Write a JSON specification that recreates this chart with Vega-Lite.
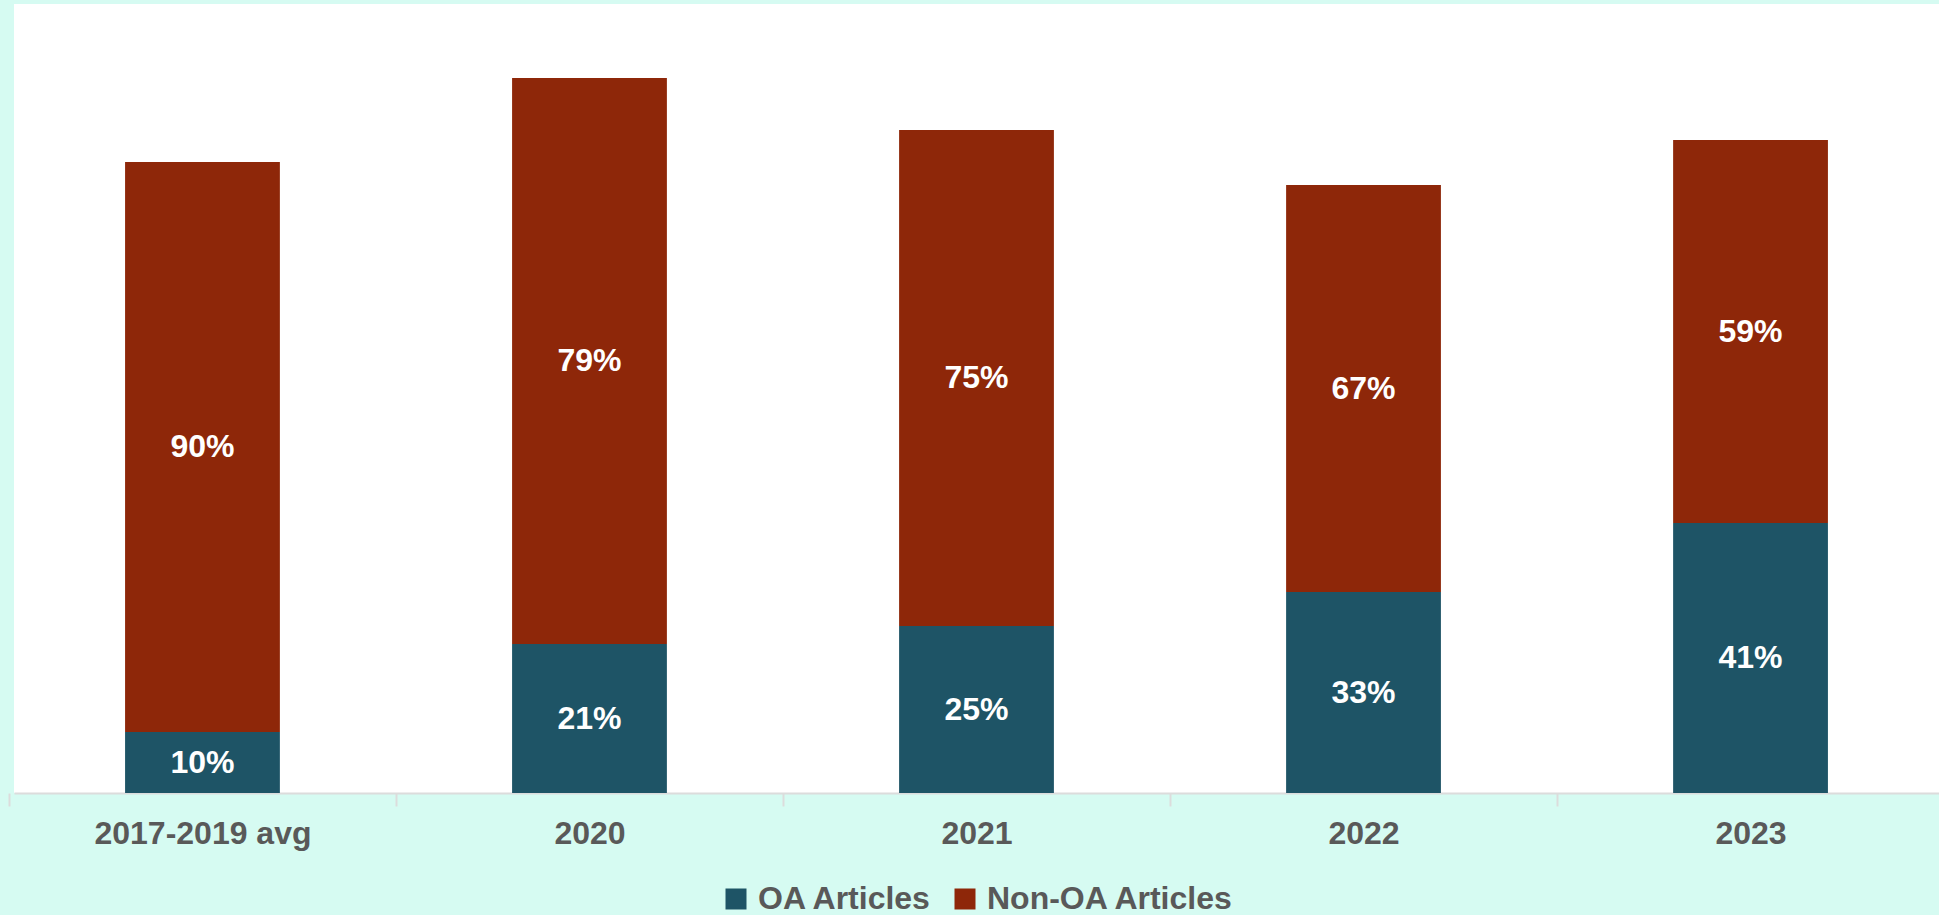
{
  "$schema": "https://vega.github.io/schema/vega-lite/v6.json",
  "autosize": {"type": "none"},
  "width": 1925,
  "height": 789,
  "padding": {"left": 14, "top": 4, "right": 0, "bottom": 122},
  "background": "#d6fbf2",
  "config": {
    "view": {"fill": "#ffffff", "stroke": null},
    "font": "Liberation Sans"
  },
  "data": {
    "values": [
      {"period": "2017-2019 avg", "type": "OA Articles", "count": 61, "pct": "10%"},
      {"period": "2017-2019 avg", "type": "Non-OA Articles", "count": 570, "pct": "90%"},
      {"period": "2020", "type": "OA Articles", "count": 149, "pct": "21%"},
      {"period": "2020", "type": "Non-OA Articles", "count": 566, "pct": "79%"},
      {"period": "2021", "type": "OA Articles", "count": 167, "pct": "25%"},
      {"period": "2021", "type": "Non-OA Articles", "count": 496, "pct": "75%"},
      {"period": "2022", "type": "OA Articles", "count": 201, "pct": "33%"},
      {"period": "2022", "type": "Non-OA Articles", "count": 407, "pct": "67%"},
      {"period": "2023", "type": "OA Articles", "count": 270, "pct": "41%"},
      {"period": "2023", "type": "Non-OA Articles", "count": 383, "pct": "59%"}
    ]
  },
  "transform": [
    {"stack": "count", "groupby": ["period"], "sort": [{"field": "type", "order": "descending"}], "as": ["y0", "y1"]},
    {"calculate": "(datum.y0 + datum.y1) / 2", "as": "ymid"}
  ],
  "encoding": {
    "x": {
      "field": "period",
      "type": "nominal",
      "sort": null,
      "scale": {"paddingInner": 0.6, "paddingOuter": 0.287},
      "axis": {
        "title": null,
        "labelAngle": 0,
        "labelFont": "Liberation Sans",
        "labelFontSize": 32,
        "labelFontWeight": "bold",
        "labelColor": "#595959",
        "labelPadding": 12,
        "labelLimit": 0,
        "tickBand": "center",
        "tickOffset": -193.5,
        "labelOffset": 193.5,
        "tickSize": 13,
        "tickWidth": 2,
        "tickColor": "#dcdcdc",
        "domainColor": "#dcdcdc",
        "domainWidth": 2,
        "grid": false
      }
    }
  },
  "layer": [
    {
      "mark": {"type": "bar"},
      "encoding": {
        "y": {"field": "y0", "type": "quantitative", "scale": {"domain": [0, 789], "nice": false}, "axis": null},
        "y2": {"field": "y1"},
        "color": {
          "field": "type",
          "type": "nominal",
          "scale": {"domain": ["OA Articles", "Non-OA Articles"], "range": ["#1e5466", "#8e2709"]},
          "legend": {
            "title": null,
            "orient": "none",
            "direction": "horizontal",
            "legendX": 706,
            "legendY": 879,
            "padding": 0,
            "symbolType": "square",
            "symbolSize": 441,
            "symbolStrokeWidth": 0,
            "symbolOpacity": 1,
            "labelFont": "Liberation Sans",
            "labelFontSize": 32,
            "labelFontWeight": "bold",
            "labelColor": "#595959",
            "labelOffset": 6,
            "labelLimit": 400,
            "columnPadding": 16
          }
        }
      }
    },
    {
      "mark": {"type": "text", "color": "#ffffff", "fontSize": 32, "fontWeight": "bold", "font": "Liberation Sans", "baseline": "middle", "align": "center"},
      "encoding": {
        "y": {"field": "ymid", "type": "quantitative"},
        "text": {"field": "pct"}
      }
    }
  ]
}
